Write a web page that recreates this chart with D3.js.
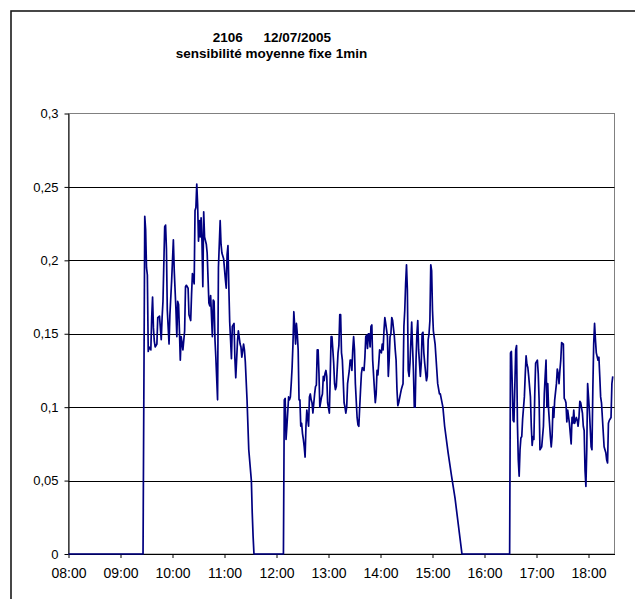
<!DOCTYPE html>
<html><head><meta charset="utf-8">
<script src="https://cdn.jsdelivr.net/npm/d3@7"></script>
<style>
html,body{margin:0;padding:0;background:#fff;}
svg{display:block;font-family:"Liberation Sans",Arial,sans-serif;}
</style></head>
<body><svg id="c" width="635" height="599"></svg>
<script>
const titleId = "2106";
const titleDate = "12/07/2005";
const subtitle = "sensibilité moyenne fixe 1min";
const xTickLabels = ["08:00","09:00","10:00","11:00","12:00","13:00","14:00","15:00","16:00","17:00","18:00"];
const yTicks = [0,0.05,0.1,0.15,0.2,0.25,0.3];

const times = [
"08:00","09:25","09:26","09:28","09:29","09:30","09:31","09:32","09:33","09:35","09:36","09:37","09:38","09:39","09:40","09:42","09:43","09:45","09:46","09:47","09:48","09:49","09:51","09:52","09:53","09:54","09:56","09:57","09:59",
"10:00","10:01","10:02","10:04","10:05","10:06","10:07","10:08","10:09","10:10","10:11","10:12","10:14","10:15","10:16","10:18","10:19","10:21","10:22","10:23","10:25","10:26","10:27","10:28","10:29","10:30","10:31","10:32","10:33","10:34","10:35","10:36","10:37","10:39","10:40","10:42","10:43","10:44","10:45","10:46","10:47","10:48","10:49","10:50","10:52","10:53","10:55","10:56","10:57","10:59",
"11:01","11:02","11:03","11:04","11:05","11:06","11:07","11:08","11:09","11:11","11:12","11:13","11:15","11:16","11:18","11:19","11:20","11:22","11:23","11:24","11:26","11:28","11:31","11:32","11:33","11:34",
"12:08","12:09","12:10","12:11","12:12","12:14","12:15","12:16","12:17","12:18","12:19","12:20","12:21","12:22","12:23","12:24","12:25","12:26","12:27","12:28","12:29","12:30","12:31","12:32","12:33","12:34","12:35","12:37","12:38","12:39","12:40","12:41","12:42","12:44","12:45","12:46","12:47","12:48","12:49","12:50","12:52","12:53","12:54","12:55","12:56","12:57","12:58","12:59",
"13:01","13:02","13:03","13:04","13:05","13:06","13:07","13:08","13:09","13:11","13:12","13:13","13:14","13:15","13:16","13:17","13:18","13:19","13:20","13:21","13:22","13:24","13:25","13:26","13:27","13:28","13:29","13:30","13:31","13:33","13:34","13:35","13:36","13:37","13:38","13:39","13:41","13:42","13:43","13:44","13:45","13:46","13:47","13:48","13:49","13:50","13:51","13:53","13:54","13:55","13:56","13:57","13:58","13:59",
"14:01","14:02","14:03","14:04","14:05","14:06","14:08","14:09","14:10","14:11","14:12","14:13","14:14","14:16","14:17","14:18","14:19","14:20","14:21","14:23","14:24","14:25","14:26","14:27","14:28","14:29","14:30","14:31","14:32","14:33","14:34","14:36","14:37","14:38","14:39","14:40","14:41","14:42","14:43","14:44","14:46","14:47","14:48","14:49","14:50","14:51","14:53","14:54","14:55","14:56","14:57","14:58","14:59",
"15:00","15:01","15:03","15:04","15:05","15:06","15:08","15:09","15:12","15:14","15:18","15:22","15:26","15:34",
"16:29","16:30","16:31","16:32","16:33","16:34","16:36","16:37","16:38","16:39","16:40","16:41","16:42","16:43","16:44","16:46","16:47","16:48","16:49","16:50","16:51","16:53","16:54","16:55","16:56","16:57","16:58","16:59",
"17:01","17:02","17:03","17:04","17:05","17:06","17:08","17:09","17:10","17:11","17:12","17:13","17:14","17:15","17:16","17:17","17:18","17:19","17:20","17:21","17:23","17:24","17:25","17:26","17:27","17:28","17:29","17:31","17:32","17:33","17:34","17:35","17:36","17:38","17:39","17:40","17:41","17:42","17:43","17:44","17:46","17:47","17:48","17:49","17:50","17:51","17:53","17:54","17:55","17:56","17:57","17:58","17:59",
"18:00","18:01","18:03","18:04","18:05","18:06","18:07","18:08","18:09","18:11","18:12","18:13","18:14","18:15","18:16","18:18","18:19","18:20","18:21","18:22","18:23","18:24","18:26","18:27","18:28","18:29"
];
const values = [
0,0,0,0.230,0.221,0.195,0.190,0.138,0.141,0.139,0.161,0.175,0.154,0.145,0.141,0.143,0.161,0.162,0.154,0.146,0.161,0.172,0.223,0.224,0.208,0.166,0.143,0.163,0.186,
0.200,0.214,0.193,0.166,0.148,0.172,0.170,0.152,0.132,0.148,0.144,0.139,0.152,0.182,0.183,0.181,0.163,0.159,0.177,0.191,0.184,0.234,0.236,0.252,0.238,0.213,0.227,0.216,0.229,0.213,0.182,0.233,0.216,0.211,0.205,0.171,0.169,0.176,0.162,0.148,0.173,0.172,0.146,0.134,0.105,0.195,0.227,0.211,0.205,0.201,
0.187,0.181,0.204,0.210,0.182,0.158,0.146,0.133,0.155,0.157,0.133,0.120,0.145,0.152,0.143,0.141,0.134,0.143,0.139,0.131,0.105,0.071,0.050,0.028,0.012,0,
0,0.105,0.106,0.078,0.087,0.107,0.105,0.107,0.116,0.127,0.143,0.165,0.155,0.143,0.157,0.150,0.139,0.105,0.105,0.087,0.089,0.082,0.078,0.073,0.066,0.087,0.098,0.087,0.107,0.109,0.105,0.103,0.096,0.109,0.114,0.115,0.139,0.139,0.123,0.100,0.107,0.109,0.121,0.118,0.123,0.125,0.121,0.103,
0.096,0.121,0.148,0.148,0.139,0.130,0.116,0.112,0.114,0.137,0.142,0.163,0.163,0.137,0.132,0.118,0.103,0.100,0.096,0.100,0.116,0.125,0.132,0.132,0.125,0.139,0.148,0.139,0.116,0.093,0.088,0.087,0.100,0.112,0.123,0.127,0.125,0.134,0.148,0.149,0.140,0.150,0.150,0.141,0.155,0.156,0.132,0.112,0.103,0.109,0.125,0.122,0.130,0.139,
0.137,0.143,0.139,0.152,0.161,0.157,0.148,0.121,0.132,0.148,0.150,0.161,0.159,0.148,0.139,0.132,0.112,0.101,0.103,0.109,0.112,0.114,0.116,0.155,0.166,0.184,0.197,0.180,0.125,0.121,0.130,0.158,0.141,0.125,0.100,0.100,0.132,0.150,0.159,0.139,0.121,0.130,0.150,0.151,0.137,0.130,0.118,0.121,0.146,0.150,0.159,0.197,0.193,
0.166,0.152,0.143,0.134,0.125,0.116,0.109,0.109,0.100,0.087,0.069,0.053,0.038,0,
0,0.137,0.138,0.116,0.091,0.090,0.139,0.142,0.089,0.064,0.053,0.071,0.079,0.080,0.092,0.107,0.122,0.135,0.129,0.127,0.121,0.107,0.087,0.074,0.080,0.078,0.109,0.130,
0.132,0.123,0.105,0.071,0.072,0.073,0.087,0.109,0.121,0.132,0.100,0.116,0.098,0.089,0.080,0.073,0.080,0.100,0.093,0.105,0.116,0.126,0.123,0.116,0.125,0.132,0.144,0.143,0.106,0.105,0.103,0.090,0.098,0.089,0.082,0.075,0.093,0.089,0.098,0.089,0.093,0.091,0.087,0.093,0.104,0.103,0.096,0.087,0.084,0.057,0.046,0.071,
0.116,0.107,0.098,0.073,0.071,0.112,0.143,0.157,0.146,0.137,0.132,0.134,0.121,0.107,0.103,0.093,0.073,0.071,0.069,0.064,0.062,0.089,0.091,0.093,0.116,0.121
];

const parse = d3.timeParse("%H:%M");
const data = times.map((t,i)=>({t:parse(t), v:values[i]}));

const svg = d3.select("#c");
const L = 68.5, R = 614.5, T = 113.5, B = 554;
const x = d3.scaleTime().domain([parse("08:00"), parse("18:30")]).range([L, R]);
const y = d3.scaleLinear().domain([0, 0.3]).range([B, T]);
const fr = d3.formatLocale({decimal:",", thousands:" ", grouping:[3], currency:["","€"]}).format("~g");

// outer chart frame
svg.append("rect").attr("x",11).attr("y",11).attr("width",700).attr("height",700)
  .attr("fill","#fff").attr("stroke","#1a1a1a").attr("stroke-width",1.6);

// titles
svg.append("text").attr("x",212.7).attr("y",41.7).attr("font-weight","bold").attr("font-size",13.5).text(titleId);
svg.append("text").attr("x",331).attr("y",41.7).attr("text-anchor","end").attr("font-weight","bold").attr("font-size",13.5).text(titleDate);
svg.append("text").attr("x",271.5).attr("y",58).attr("text-anchor","middle").attr("font-weight","bold").attr("font-size",13.5).text(subtitle);

// plot area border
svg.append("rect").attr("x",L).attr("y",T).attr("width",R-L).attr("height",B-T)
  .attr("fill","none").attr("stroke","#808080").attr("stroke-width",1);

// gridlines
svg.append("g").selectAll("line").data(yTicks.filter(d=>d>0 && d<0.3)).join("line")
  .attr("x1",L).attr("x2",R).attr("y1",d=>Math.round(y(d))+0.5).attr("y2",d=>Math.round(y(d))+0.5)
  .attr("stroke","#000").attr("stroke-width",1);

// y axis
const ya = svg.append("g").attr("transform",`translate(${L},0)`)
  .call(d3.axisLeft(y).tickValues(yTicks).tickFormat(fr).tickSize(4).tickSizeOuter(0).tickPadding(6));
ya.select(".domain").attr("stroke","#000");
ya.selectAll(".tick line").attr("stroke","#000");
ya.selectAll("text").attr("font-size",13).attr("fill","#000").attr("font-family","Liberation Sans, Arial, sans-serif");

// x axis
const xTicks = xTickLabels.map(parse);
const xa = svg.append("g").attr("transform",`translate(0,${B})`)
  .call(d3.axisBottom(x).tickValues(xTicks).tickFormat(d3.timeFormat("%H:%M")).tickSize(4).tickSizeOuter(0).tickPadding(10));
xa.select(".domain").attr("stroke","#000");
xa.selectAll(".tick line").attr("stroke","#000");
xa.selectAll("text").attr("font-size",14).attr("fill","#000").attr("font-family","Liberation Sans, Arial, sans-serif");

// series line
svg.append("path").datum(data)
  .attr("fill","none").attr("stroke","#000080").attr("stroke-width",1.7).attr("stroke-linejoin","round")
  .attr("d", d3.line().x(d=>x(d.t)).y(d=>y(d.v)));
</script></body></html>
